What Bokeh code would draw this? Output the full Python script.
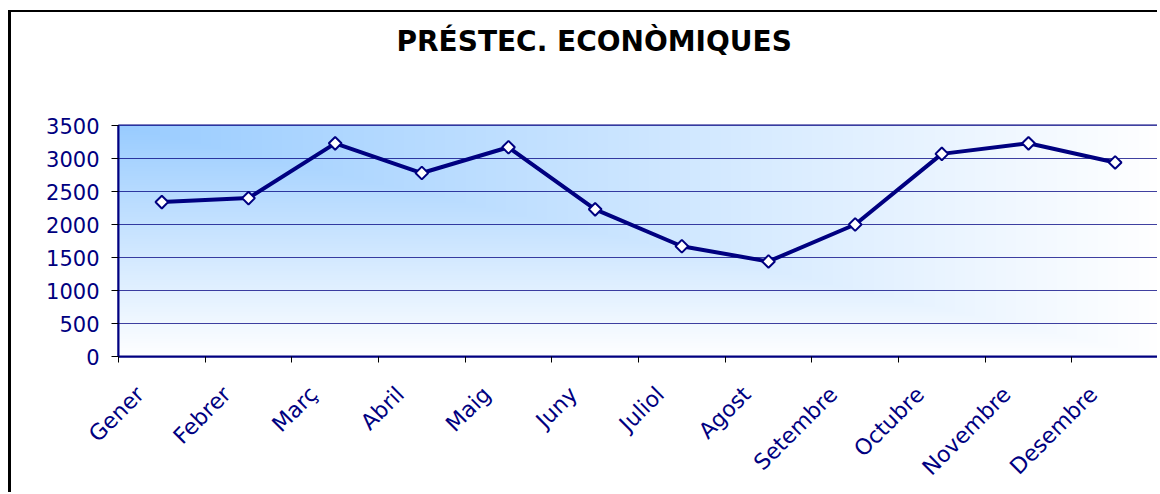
import numpy as np
from bokeh.plotting import figure
from bokeh.models import Range1d, FixedTicker, Title
from bokeh.embed import file_html
from bokeh.resources import INLINE

# ---- data ----
months = ["Gener", "Febrer", "Març", "Abril", "Maig", "Juny", "Juliol",
          "Agost", "Setembre", "Octubre", "Novembre", "Desembre"]
values = [2340, 2400, 3230, 2780, 3170, 2230, 1670, 1440, 2000, 3070, 3230, 2940]
y_ticks = [0, 500, 1000, 1500, 2000, 2500, 3000, 3500]
title_text = "PRÉSTEC. ECONÒMIQUES"

# ---- styles ----
NAVY = "#000080"
GRAD_START = (153, 204, 255)
GRAD_END = (255, 255, 255)

N = len(months)
xs = [i + 0.5 for i in range(N)]
label_shift = 0.25
label_pos = [x - label_shift for x in xs]

p = figure(width=1149, height=482, output_backend="svg", toolbar_location=None,
           x_range=Range1d(0, N), y_range=Range1d(0, y_ticks[-1]),
           min_border_left=107, min_border_right=2, min_border_top=113,
           min_border_bottom=138)
p.styles = {"margin-left": "8px", "margin-top": "10px",
            "border-left": "3px solid black", "border-top": "2px solid black"}
p.background_fill_color = "white"
p.border_fill_color = "white"
p.outline_line_color = NAVY
p.outline_line_width = 2

# title
p.title.text = title_text
p.title.align = "left"
p.title.offset = 278
p.title.text_font = "DejaVu Sans"
p.title.text_font_style = "bold"
p.title.text_font_size = "28px"
p.title.text_color = "black"
p.title.standoff = 10
# invisible spacer between title and plot area
p.add_layout(Title(text=" ", text_font_size="2px", standoff=59), "above")

# gradient background (from top-left corner)
W, H = 1040, 231
u = (np.arange(W) + 0.5) / W
v = 1 - (np.arange(H) + 0.5) / H
t = np.maximum(u[None, :], v[:, None])
img = np.empty((H, W), dtype=np.uint32)
view = img.view(dtype=np.uint8).reshape((H, W, 4))
for k in range(3):
    view[..., k] = (GRAD_START[k] + (GRAD_END[k] - GRAD_START[k]) * t).astype(np.uint8)
view[..., 3] = 255
bg = p.image_rgba(image=[img], x=0, y=0, dw=N, dh=y_ticks[-1])
bg.level = "image"

# grid
p.xgrid.visible = False
p.ygrid.ticker = FixedTicker(ticks=y_ticks)
p.ygrid.grid_line_color = NAVY
p.ygrid.grid_line_alpha = 0.75
p.ygrid.grid_line_width = 1

# y axis
p.yaxis.ticker = FixedTicker(ticks=y_ticks)
p.yaxis.axis_line_color = NAVY
p.yaxis.axis_line_width = 2
p.yaxis.major_tick_out = 7
p.yaxis.major_tick_in = 0
p.yaxis.major_tick_line_color = "black"
p.yaxis.minor_tick_line_color = None
p.yaxis.major_label_text_color = NAVY
p.yaxis.major_label_text_font = "DejaVu Sans"
p.yaxis.major_label_text_font_size = "21px"
p.yaxis.major_label_standoff = 12

# x axis
p.xaxis.ticker = FixedTicker(ticks=label_pos, minor_ticks=list(range(N + 1)))
p.xaxis.major_label_overrides = {pos: m for pos, m in zip(label_pos, months)}
p.xaxis.major_label_orientation = np.pi / 4
p.xaxis.axis_line_color = NAVY
p.xaxis.axis_line_width = 2
p.xaxis.major_tick_out = 6
p.xaxis.major_tick_in = 0
p.xaxis.major_tick_line_color = None
p.xaxis.minor_tick_out = 6
p.xaxis.minor_tick_in = 0
p.xaxis.minor_tick_line_color = "black"
p.xaxis.major_label_text_color = NAVY
p.xaxis.major_label_text_font = "DejaVu Sans"
p.xaxis.major_label_text_font_size = "22px"
p.xaxis.major_label_standoff = 28

# series
p.line(xs, values, line_color=NAVY, line_width=4)
p.scatter(xs, values, marker="square", angle=np.pi / 4, size=9,
          fill_color="white", line_color=NAVY, line_width=2)

open("out.html", "w").write(file_html(p, INLINE))
